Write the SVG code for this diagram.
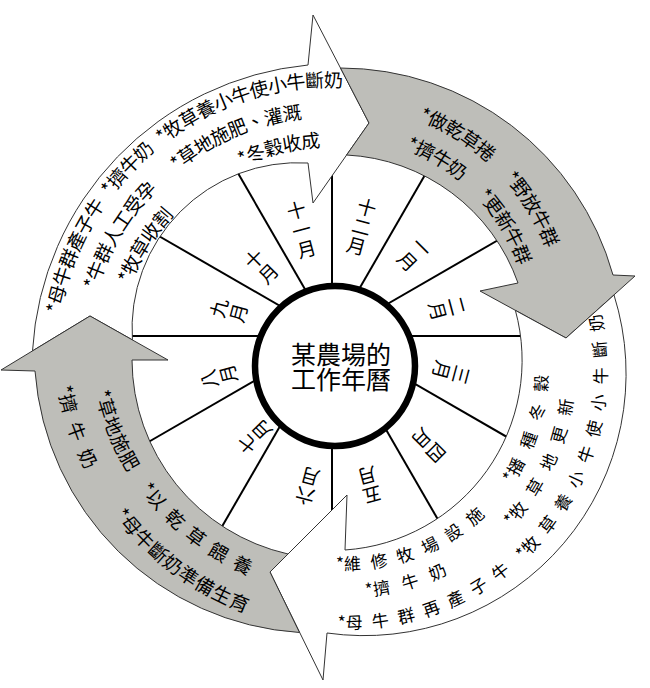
<svg xmlns="http://www.w3.org/2000/svg" xmlns:xlink="http://www.w3.org/1999/xlink" width="650" height="688" viewBox="0 0 650 688">
<style>
.bg{fill:#fff}
.aw{fill:#fff;stroke:#333;stroke-width:1;stroke-linejoin:miter}
.ag{fill:#bebeb9;stroke:#333;stroke-width:1;stroke-linejoin:miter}
.spoke{stroke:#000;stroke-width:2}
.hub{fill:#fff;stroke:#000;stroke-width:6.5}
.t{font-family:"Noto Sans CJK TC","Noto Sans CJK SC",sans-serif;fill:#000}
.mo{font-size:19px;text-anchor:middle;dominant-baseline:central}
.ctr{font-size:25px;text-anchor:middle;dominant-baseline:central}
.at{font-size:19px;text-anchor:middle;dominant-baseline:central}
.ct{font-size:17px;text-anchor:middle;dominant-baseline:central}
</style>
<defs>
<path id="pA1" d="M48.1,337.25 A284,284 0 0 1 380.3,82.3"/>
<path id="pA2" d="M77.97,339.86 A254,254 0 0 1 375.11,111.86"/>
<path id="pA3" d="M107.85,342.48 A224,224 0 0 1 369.9,141.4"/>
<path id="pB1" d="M380.6,100.5 A228,228 0 0 1 565.5,285.4"/>
<path id="pB2" d="M375.04,131.98 A196,196 0 0 1 534.02,290.96"/>
<path id="pC1" d="M304.4,617.2 A251,251 0 0 0 583.9,284.2"/>
<path id="pC2" d="M309.97,585.67 A219,219 0 0 0 553.79,295.1"/>
<path id="pC3" d="M314.66,559.08 A192,192 0 0 0 528.42,304.33"/>
<path id="pD1" d="M63.1,309.9 A288,288 0 0 0 324.9,621.9"/>
<path id="pD2" d="M98.96,313.04 A252,252 0 0 0 328.04,586.04"/>
</defs>
<rect class="bg" x="0" y="0" width="650" height="688"/>

<g id="month-ring">
<line class="spoke" x1="332" y1="336" x2="532" y2="336"/>
<line class="spoke" x1="332" y1="336" x2="515.6" y2="442"/>
<line class="spoke" x1="332" y1="336" x2="446" y2="533.5"/>
<line class="spoke" x1="332" y1="336" x2="332" y2="531"/>
<line class="spoke" x1="332" y1="336" x2="218" y2="533.5"/>
<line class="spoke" x1="332" y1="336" x2="141.5" y2="446"/>
<line class="spoke" x1="332" y1="336" x2="117" y2="336"/>
<line class="spoke" x1="332" y1="336" x2="148.4" y2="230"/>
<line class="spoke" x1="332" y1="336" x2="232" y2="162.8"/>
<line class="spoke" x1="332" y1="336" x2="332" y2="151"/>
<line class="spoke" x1="332" y1="336" x2="432" y2="162.8"/>
<line class="spoke" x1="332" y1="336" x2="509.5" y2="233.5"/>
</g>

<g id="center">
<circle class="hub" cx="335" cy="366" r="80"/>
<text class="t ctr" x="341" y="353">某農場的</text>
<text class="t ctr" x="341" y="378">工作年曆</text>
</g>

<g id="months">
<g id="m11"><text class="t mo" transform="translate(301,228) rotate(-15)"><tspan x="0" y="-20">十</tspan><tspan x="0" y="0">一</tspan><tspan x="0" y="20">月</tspan></text></g>
<g id="m10"><text class="t mo" transform="translate(260,265) rotate(-45)"><tspan x="0" y="-10">十</tspan><tspan x="0" y="10">月</tspan></text></g>
<g id="m9"><text class="t mo" transform="translate(227,310) rotate(-75)"><tspan x="0" y="-10">九</tspan><tspan x="0" y="10">月</tspan></text></g>
<g id="m8"><text class="t mo" transform="translate(217,377) rotate(-105)"><tspan x="0" y="-10">八</tspan><tspan x="0" y="10">月</tspan></text></g>
<g id="m7"><text class="t mo" transform="translate(253,438) rotate(-135)"><tspan x="0" y="-10">七</tspan><tspan x="0" y="10">月</tspan></text></g>
<g id="m6"><text class="t mo" transform="translate(307,488) rotate(195)"><tspan x="0" y="-10">六</tspan><tspan x="0" y="10">月</tspan></text></g>
<g id="m5"><text class="t mo" transform="translate(370,487) rotate(165)"><tspan x="0" y="-10">五</tspan><tspan x="0" y="10">月</tspan></text></g>
<g id="m4"><text class="t mo" transform="translate(430,447) rotate(135)"><tspan x="0" y="-10">四</tspan><tspan x="0" y="10">月</tspan></text></g>
<g id="m3"><text class="t mo" transform="translate(453,373) rotate(105)"><tspan x="0" y="-10">三</tspan><tspan x="0" y="10">月</tspan></text></g>
<g id="m2"><text class="t mo" transform="translate(449,308) rotate(75)"><tspan x="0" y="-10">二</tspan><tspan x="0" y="10">月</tspan></text></g>
<g id="m1"><text class="t mo" transform="translate(416,253) rotate(45)"><tspan x="0" y="-10">一</tspan><tspan x="0" y="10">月</tspan></text></g>
<g id="m12"><text class="t mo" transform="translate(362,225) rotate(15)"><tspan x="0" y="-20">十</tspan><tspan x="0" y="0">二</tspan><tspan x="0" y="20">月</tspan></text></g>
</g>

<g id="connectors">
<g id="arrowA">
<path class="aw" d="M32.5,350.9 L90,316 L132.4,339.9 A166,166 0 0 1 308,163 L313,203 L369,123 L313,15 L308,65 A305,305 0 0 0 32.5,350.9 Z"/>
<text class="t at"><textPath xlink:href="#pA1" href="#pA1" startOffset="87">*母牛群產子牛</textPath></text>
<text class="t at"><textPath xlink:href="#pA1" href="#pA1" startOffset="191.3">*擠牛奶</textPath></text>
<text class="t at"><textPath xlink:href="#pA1" href="#pA1" startOffset="333.6">*牧草養小牛使小牛斷奶</textPath></text>
<text class="t at"><textPath xlink:href="#pA2" href="#pA2" startOffset="115.3">*牛群人工受孕</textPath></text>
<text class="t at"><textPath xlink:href="#pA2" href="#pA2" startOffset="275.6">*草地施肥、灌溉</textPath></text>
<text class="t at"><textPath xlink:href="#pA3" href="#pA3" startOffset="106.3">*牧草收割</textPath></text>
<text class="t at"><textPath xlink:href="#pA3" href="#pA3" startOffset="278.6">*冬穀收成</textPath></text>
</g>
<g id="arrowB">
<path class="ag" d="M340.5,68 L369,123 L346.6,155 A192,192 0 0 1 518,283 L480,291 L566,338 L635,276 L613,275 A283,283 0 0 0 340.5,68 Z"/>
<text class="t at"><textPath xlink:href="#pB1" href="#pB1" startOffset="85.4">*做乾草捲</textPath></text>
<text class="t at"><textPath xlink:href="#pB1" href="#pB1" startOffset="194.1">*野放牛群</textPath></text>
<text class="t at"><textPath xlink:href="#pB2" href="#pB2" startOffset="68.4">*擠牛奶</textPath></text>
<text class="t at"><textPath xlink:href="#pB2" href="#pB2" startOffset="167.8">*更新牛群</textPath></text>
</g>
<g id="arrowC">
<path class="aw" d="M614,295 L566,338 L515.4,310.4 A190,190 0 0 1 345,550 L347,495 L270,572 L323,680 L327,633 A262,262 0 0 0 614,295 Z"/>
<text class="t ct"><textPath xlink:href="#pC1" href="#pC1" startOffset="128.5">*<tspan letter-spacing="9">母牛群再產子牛</tspan></textPath></text>
<text class="t ct"><textPath xlink:href="#pC1" href="#pC1" startOffset="366.4">*<tspan letter-spacing="9.5">牧草養小牛使小牛斷奶</tspan></textPath></text>
<text class="t ct"><textPath xlink:href="#pC2" href="#pC2" startOffset="102.5">*<tspan letter-spacing="12">擠牛奶</tspan></textPath></text>
<text class="t ct"><textPath xlink:href="#pC2" href="#pC2" startOffset="289.7">*<tspan letter-spacing="11.5">牧草地更新</tspan></textPath></text>
<text class="t ct"><textPath xlink:href="#pC3" href="#pC3" startOffset="104.9">*<tspan letter-spacing="9.5">維修牧場設施</tspan></textPath></text>
<text class="t ct"><textPath xlink:href="#pC3" href="#pC3" startOffset="280">*<tspan letter-spacing="12">播種冬穀</tspan></textPath></text>
</g>
<g id="arrowD">
<path class="ag" d="M288,554 L270,572 L299.5,632.5 A283,283 0 0 1 35,371 L1,370 L90,316 L168,360 L132,360 A200,200 0 0 0 288,554 Z"/>
<text class="t at"><textPath xlink:href="#pD1" href="#pD1" startOffset="123.4">*<tspan letter-spacing="10">擠牛奶</tspan></textPath></text>
<text class="t at"><textPath xlink:href="#pD1" href="#pD1" startOffset="293.3">*母牛斷奶準備生育</textPath></text>
<text class="t at"><textPath xlink:href="#pD2" href="#pD2" startOffset="119.5">*草地施肥</textPath></text>
<text class="t at"><textPath xlink:href="#pD2" href="#pD2" startOffset="253">*<tspan letter-spacing="8">以乾草餵養</tspan></textPath></text>
</g>
</g>
</svg>
